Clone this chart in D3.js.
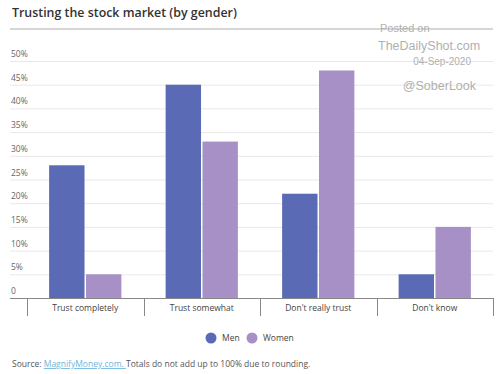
<!DOCTYPE html>
<html>
<head>
<meta charset="utf-8">
<script src="https://cdn.jsdelivr.net/npm/d3@7"></script>
<style>
  body { margin: 0; background: #fff; }
  text { font-family: "Open Sans", sans-serif; }
  .wm text { font-family: "Liberation Sans", Arial, sans-serif; }
</style>
</head>
<body>
<svg width="500" height="374"></svg>
<script>
// Data.
const categories = ['Trust completely', 'Trust somewhat', "Don't really trust", "Don't know"];
const seriesNames = ['Men', 'Women'];
const menValues = [28, 45, 22, 5];
const womenValues = [5, 33, 48, 15];
const yTicks = [0, 5, 10, 15, 20, 25, 30, 35, 40, 45, 50];
const colours = ['#5b6ab5', '#a690c6'];

const svg = d3.select('svg');
const left = 10, right = 493;
const plotLeft = 27;
const plotTop = 61, plotBottom = 298;

// Scales.
const xScale = d3.scaleBand().domain(categories).range([plotLeft, right]);
const xInner = d3.scaleBand().domain(seriesNames)
  .range([0, xScale.bandwidth()]).paddingOuter(0.6).paddingInner(0.04);
const yScale = d3.scaleLinear().domain([0, 50]).range([plotBottom, plotTop]);
const colScale = d3.scaleOrdinal().domain(seriesNames).range(colours);

// Title.
svg.append('text').attr('x', 12).attr('y', 17)
  .attr('font-size', 12.4).attr('font-weight', 600).attr('fill', '#333')
  .text('Trusting the stock market (by gender)');
svg.append('line').attr('x1', left).attr('x2', right).attr('y1', 29).attr('y2', 29)
  .attr('stroke', '#c8c8c8').attr('stroke-width', 1.5);

// Grid and y labels.
const grid = svg.append('g');
grid.selectAll('line').data(yTicks.filter(d => d > 0)).enter().append('line')
  .attr('x1', left).attr('x2', right)
  .attr('y1', d => yScale(d) + 0.5).attr('y2', d => yScale(d) + 0.5)
  .attr('stroke', '#e8e8e8');
grid.selectAll('text').data(yTicks).enter().append('text')
  .attr('x', 11).attr('y', d => yScale(d) - 4)
  .attr('font-size', 8.5).attr('fill', '#666')
  .text(d => d === 0 ? '0' : d + '%');

// Watermark.
const wm = svg.append('g').attr('class', 'wm').attr('fill', '#b0b0b0');
wm.append('text').attr('x', 380).attr('y', 32).attr('font-size', 11).text('Posted on');
wm.append('text').attr('x', 378).attr('y', 50).attr('font-size', 12.5).text('TheDailyShot.com');
wm.append('text').attr('x', 471).attr('y', 65).attr('font-size', 10).attr('text-anchor', 'end').text('04-Sep-2020');
wm.append('text').attr('x', 476).attr('y', 90).attr('font-size', 12.5).attr('text-anchor', 'end').text('@SoberLook');

// Bars.
const rows = categories.map((c, i) => ({ cat: c, values: [menValues[i], womenValues[i]] }));
const groups = svg.append('g').selectAll('g').data(rows).enter().append('g')
  .attr('transform', d => `translate(${xScale(d.cat)},0)`);
groups.selectAll('rect')
  .data(d => d.values.map((v, i) => ({ name: seriesNames[i], value: v })))
  .enter().append('rect')
  .attr('x', d => xInner(d.name))
  .attr('width', xInner.bandwidth())
  .attr('y', d => yScale(d.value))
  .attr('height', d => plotBottom - yScale(d.value))
  .attr('fill', d => colScale(d.name));

// X axis.
svg.append('line').attr('x1', left).attr('x2', right).attr('y1', plotBottom + 0.5).attr('y2', plotBottom + 0.5)
  .attr('stroke', '#888');
const tickXs = categories.map(c => xScale(c)).concat([right]);
svg.append('g').selectAll('line').data(tickXs).enter().append('line')
  .attr('x1', d => Math.round(d) + 0.5).attr('x2', d => Math.round(d) + 0.5)
  .attr('y1', plotBottom).attr('y2', plotBottom + 18)
  .attr('stroke', '#888');
svg.append('g').selectAll('text').data(categories).enter().append('text')
  .attr('x', d => xScale(d) + xScale.bandwidth() / 2).attr('y', plotBottom + 13)
  .attr('text-anchor', 'middle').attr('font-size', 8.5).attr('fill', '#444')
  .text(d => d);

// Legend.
const legend = svg.append('g');
const legX = [211, 252];
seriesNames.forEach((name, i) => {
  legend.append('circle').attr('cx', legX[i]).attr('cy', 338).attr('r', 5.5).attr('fill', colScale(name));
  legend.append('text').attr('x', legX[i] + 11).attr('y', 341).attr('font-size', 8.5).attr('fill', '#444').text(name);
});

// Source.
const src = svg.append('text').attr('x', 12).attr('y', 367).attr('font-size', 8.5).attr('fill', '#555');
src.append('tspan').text('Source: ');
src.append('tspan').attr('fill', '#6cb6e0').attr('text-decoration', 'underline').text('MagnifyMoney.com. ');
src.append('tspan').text('Totals do not add up to 100% due to rounding.');
</script>
</body>
</html>
